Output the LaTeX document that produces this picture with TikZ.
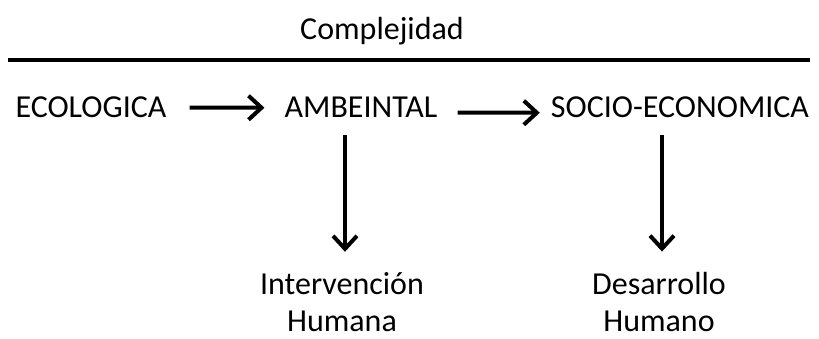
\documentclass[tikz,border=0pt]{standalone}
\usepackage{fontspec}
\setmainfont{Carlito}
\usetikzlibrary{arrows.meta}
\begin{document}
\begin{tikzpicture}[x=1pt,y=-1pt]
        \tikzset{
            txt/.style={inner sep=0pt,anchor=base,font=\fontsize{32}{37}\selectfont,align=center},
            flecha/.style={line width=4pt,-{Straight Barb[length=13pt,width=24pt,line width=4pt]}}
        }
        \useasboundingbox (0,0) rectangle (819,339);

        \node [txt] (titulo) at (382,40) {Complejidad};
        \draw [line width=3.5pt] (8,60) -- (810,60);

        \node [txt] (eco) at (91,118) {ECOLOGICA};
        \node [txt] (amb) at (361,118) {AMBEINTAL};
        \node [txt] (soc) at (680,118) {SOCIO-ECONOMICA};
        \node [txt] (int) at (342,331) {Intervención\\Humana};
        \node [txt] (des) at (659,331) {Desarrollo\\Humano};

        \draw [flecha,shorten <=23pt,shorten >=20pt] (eco.east) -- (amb.west);
        \draw [flecha,shorten <=20pt,shorten >=11pt] ([yshift=-5pt]amb.east) -- ([yshift=-5pt]soc.west);
        \draw [flecha,shorten <=17pt,shorten >=20pt] ([xshift=-16pt]amb.south) -- ([xshift=3pt]int.north);
        \draw [flecha,shorten <=17pt,shorten >=20pt] ([xshift=-18pt]soc.south) -- ([xshift=3pt]des.north);
\end{tikzpicture}
\end{document}
